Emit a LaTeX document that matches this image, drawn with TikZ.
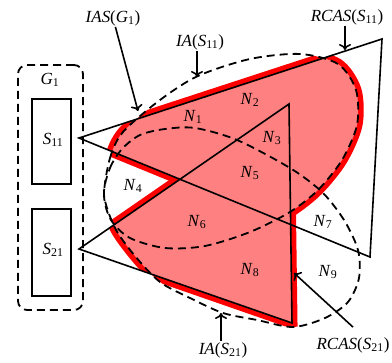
\documentclass[tikz,border=0pt]{standalone}
\usepackage{fontspec}
\setmainfont{Liberation Serif}
\usetikzlibrary{arrows.meta}

\definecolor{regionfill}{RGB}{255,128,128}
\definecolor{regionline}{RGB}{255,0,0}

\newcommand{\nsub}[2]{\textit{#1}\textsubscript{#2}}
% triangles and ellipses of the two sensors
\newcommand{\triA}{(a11) -- (b11) -- (c11) -- cycle}
\newcommand{\triB}{(a21) -- (b21) -- (c21) -- cycle}
\newcommand{\ellA}{plot[smooth cycle] coordinates {(104,195) (110,158) (123,132) (160,100) (198,76) (250,59) (300,54) (338,64) (356,90) (357,125) (342,160) (318,190) (290,212) (250,232) (205,246) (165,248) (130,238) (111,220)}}
\newcommand{\ellB}{plot[smooth cycle] coordinates {(104,195) (110,168) (122,149) (140,135) (165,129) (195,128) (237,140) (290,168) (322,192) (344,220) (358,250) (359,278) (348,302) (325,318) (293,327) (257,320) (223,313) (190,298) (160,282) (135,256) (115,228)}}

\tikzset{
  lbl/.style={font=\fontsize{17}{19}\selectfont, inner sep=1pt},
  arr/.style={-{To[length=6pt,width=12pt]}, line width=1.6pt},
  bound/.style={dash pattern=on 8pt off 5pt, line width=1.8pt},
  edge/.style={line width=1.6pt},
  redline/.style={regionline, line width=11pt},
}

\begin{document}
\begin{tikzpicture}[x=1pt,y=-1pt]
\useasboundingbox (0,0) rectangle (392,363);

\coordinate (a11) at (79,138);
\coordinate (b11) at (382,39);
\coordinate (c11) at (370,257);
\coordinate (a21) at (79,249);
\coordinate (b21) at (289,104);
\coordinate (c21) at (292,323);

% red outline of IAS(G1)
\begin{scope}\clip \triA; \draw[redline] \ellA; \end{scope}
\begin{scope}\clip \ellA; \draw[redline] \triA; \end{scope}
\begin{scope}\clip \triB; \draw[redline] \ellB; \end{scope}
\begin{scope}\clip \ellB; \draw[redline] \triB; \end{scope}
% filled area
\begin{scope}\clip \triA; \fill[regionfill] \ellA; \end{scope}
\begin{scope}\clip \triB; \fill[regionfill] \ellB; \end{scope}

\draw[edge, line join=miter] \triA;
\draw[edge, line join=miter] \triB;
\draw[bound] \ellA;
\draw[bound] \ellB;

% group and sensors
\node[bound, draw, rounded corners=9pt, minimum width=65pt, minimum height=245pt] (g1box) at (50.5,187.5) {};
\node[lbl] (g1) at (50,80) {\nsub{G}{1}};
\node[edge, draw, minimum width=39pt, minimum height=85pt] (s11) at (51.5,141.5) {};
\node[lbl] (s11lbl) at (53,140) {\nsub{S}{11}};
\node[edge, draw, minimum width=39pt, minimum height=87pt] (s21) at (51.5,252.5) {};
\node[lbl] (s21lbl) at (53,250) {\nsub{S}{21}};

% region labels
\node[lbl] (n1) at (193,117) {\nsub{N}{1}};
\node[lbl] (n2) at (250,100) {\nsub{N}{2}};
\node[lbl] (n3) at (272,138) {\nsub{N}{3}};
\node[lbl] (n4) at (133,186) {\nsub{N}{4}};
\node[lbl] (n5) at (250,173) {\nsub{N}{5}};
\node[lbl] (n6) at (197,222) {\nsub{N}{6}};
\node[lbl] (n7) at (323,222) {\nsub{N}{7}};
\node[lbl] (n8) at (250,270) {\nsub{N}{8}};
\node[lbl] (n9) at (328,272) {\nsub{N}{9}};

% callouts
\node[lbl] (iasg) at (113,18) {\textit{IAS}(\nsub{G}{1})};
\node[lbl] (ia11) at (200,42) {\textit{IA}(\nsub{S}{11})};
\node[lbl] (rcas11) at (347,17) {\textit{RCAS}(\nsub{S}{11})};
\node[lbl] (ia21) at (223,350) {\textit{IA}(\nsub{S}{21})};
\node[lbl] (rcas21) at (353,345) {\textit{RCAS}(\nsub{S}{21})};

\coordinate (iasgtip) at (138,111);
\coordinate (ia11tip) at (197,77);
\coordinate (rcas11tip) at (345,50);
\coordinate (ia21tip) at (221,313);
\coordinate (rcas21tip) at (294,273);

\draw[arr] (iasg) -- (iasgtip);
\draw[arr] (ia11.south -| ia11tip) -- (ia11tip);
\draw[arr] (rcas11.south -| rcas11tip) -- (rcas11tip);
\draw[arr] (ia21.north -| ia21tip) -- (ia21tip);
\draw[arr] ([yshift=9pt]rcas21.north) -- (rcas21tip);
\end{tikzpicture}
\end{document}
